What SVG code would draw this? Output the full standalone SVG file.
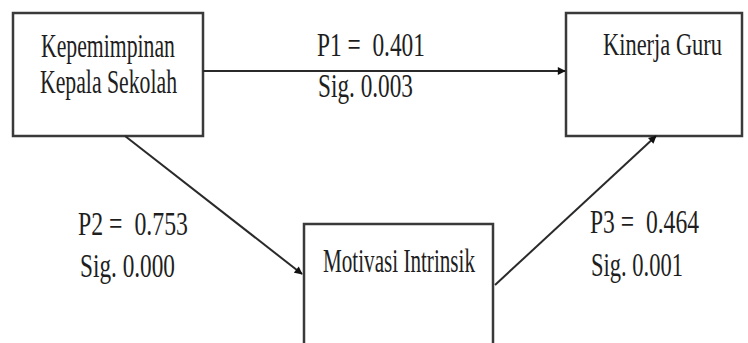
<svg xmlns="http://www.w3.org/2000/svg" width="748" height="343" viewBox="0 0 748 343">
<defs>
<style>
.box{fill:#fff;stroke:#3a3a3a;stroke-width:2.5}
.t{font-family:"Liberation Serif","Times New Roman",serif;fill:#1e1e1e;font-size:22px}
.c{stroke:#2a2a2a;stroke-width:2;fill:none;marker-end:url(#ah)}
</style>
<marker id="ah" viewBox="0 0 10 10" refX="9" refY="5" markerWidth="9" markerHeight="8" markerUnits="userSpaceOnUse" orient="auto">
<path d="M0,0 L10,5 L0,10 Z" fill="#111"/>
</marker>
</defs>
<rect width="748" height="343" fill="#fff"/>
<g id="node-kepemimpinan">
<rect class="box" x="13" y="13" width="190" height="123"/>
<text class="t" transform="matrix(1 0 0 1.55 0 57)" x="41" y="0" textLength="134" lengthAdjust="spacingAndGlyphs">Kepemimpinan</text>
<text class="t" transform="matrix(1 0 0 1.55 0 93)" x="40" y="0" textLength="137" lengthAdjust="spacingAndGlyphs">Kepala Sekolah</text>
</g>
<g id="node-kinerja">
<rect class="box" x="566" y="13" width="176" height="123"/>
<text class="t" transform="matrix(1 0 0 1.45 0 55)" x="603" y="0" textLength="119" lengthAdjust="spacingAndGlyphs">Kinerja Guru</text>
</g>
<g id="node-motivasi">
<rect class="box" x="304" y="224" width="189" height="130"/>
<text class="t" transform="matrix(1 0 0 1.5 0 272)" x="323" y="0" textLength="152" lengthAdjust="spacingAndGlyphs">Motivasi Intrinsik</text>
</g>
<g id="connectors">
<line class="c" x1="203" y1="71" x2="565" y2="71"/>
<line class="c" x1="125" y1="136" x2="302" y2="274"/>
<line class="c" x1="495" y1="285" x2="656" y2="136"/>
</g>
<g id="labels">
<text class="t" transform="matrix(1 0 0 1.55 0 56)" x="317" y="0" textLength="108" lengthAdjust="spacingAndGlyphs">P1 =&#160; 0.401</text>
<text class="t" transform="matrix(1 0 0 1.55 0 97)" x="318" y="0" textLength="95" lengthAdjust="spacingAndGlyphs">Sig. 0.003</text>
<text class="t" transform="matrix(1 0 0 1.55 0 235)" x="78" y="0" textLength="110" lengthAdjust="spacingAndGlyphs">P2 =&#160; 0.753</text>
<text class="t" transform="matrix(1 0 0 1.55 0 277)" x="80" y="0" textLength="95" lengthAdjust="spacingAndGlyphs">Sig. 0.000</text>
<text class="t" transform="matrix(1 0 0 1.55 0 233)" x="590" y="0" textLength="109" lengthAdjust="spacingAndGlyphs">P3 =&#160; 0.464</text>
<text class="t" transform="matrix(1 0 0 1.55 0 276)" x="591" y="0" textLength="92" lengthAdjust="spacingAndGlyphs">Sig. 0.001</text>
</g>
</svg>
